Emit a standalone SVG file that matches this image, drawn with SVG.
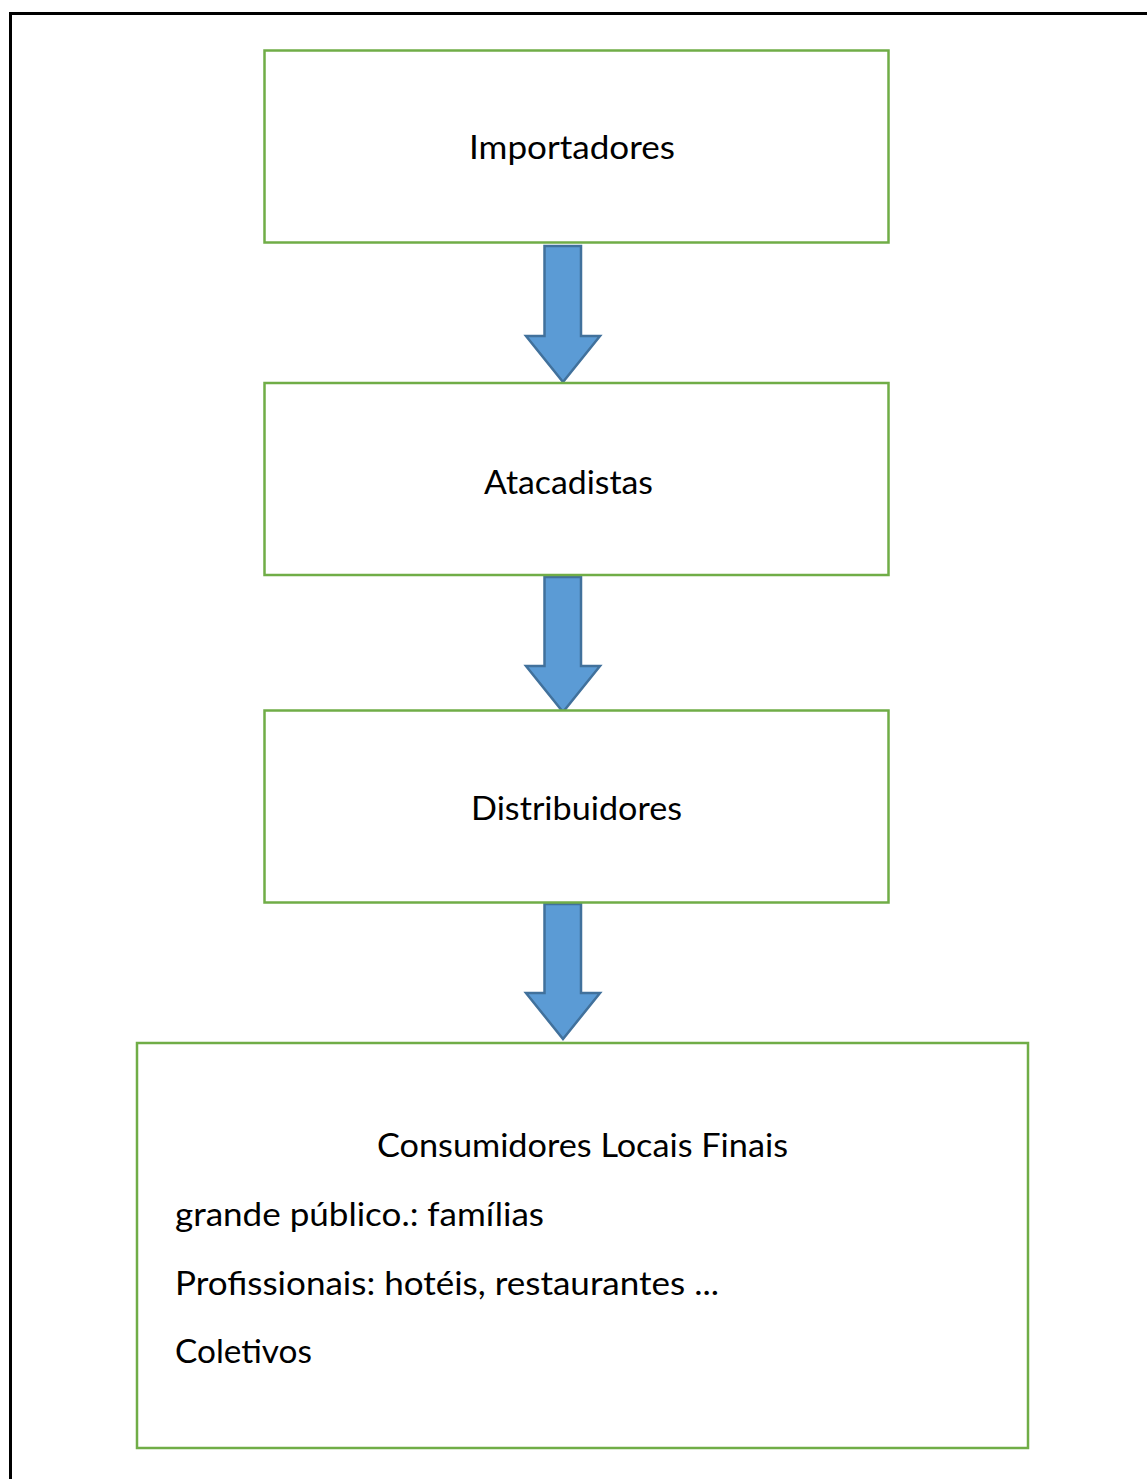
<svg xmlns="http://www.w3.org/2000/svg" width="1147" height="1479" viewBox="0 0 1147 1479">
<style>
.box{fill:#fff;stroke:#70AD47;stroke-width:2.5}
.arr{fill:#5B9BD5;stroke:#41719C;stroke-width:2.5;stroke-linejoin:miter}
.t{font-family:Lato,"Open Sans","Liberation Sans",sans-serif;font-size:32px;fill:#000}
</style>
<rect width="1147" height="1479" fill="#fff"/>
<path d="M10.5,1479 V13.5 H1147" fill="none" stroke="#000" stroke-width="3"/>
<g id="connectors">
<polygon class="arr" points="544.5,246 581,246 581,336 600,336 563,382 526,336 544.5,336"/>
<polygon class="arr" points="544.5,577 581,577 581,666 600,666 563,712 526,666 544.5,666"/>
<polygon class="arr" points="544.5,904 581,904 581,993 600,993 563,1039 526,993 544.5,993"/>
</g>
<g id="importadores">
<rect class="box" x="264.5" y="50.5" width="624" height="192"/>
<text class="t" x="469" y="159" textLength="206" lengthAdjust="spacingAndGlyphs">Importadores</text>
</g>
<g id="atacadistas">
<rect class="box" x="264.5" y="383" width="624" height="192"/>
<text class="t" x="484" y="494" textLength="169" lengthAdjust="spacingAndGlyphs">Atacadistas</text>
</g>
<g id="distribuidores">
<rect class="box" x="264.5" y="710.5" width="624" height="192"/>
<text class="t" x="471" y="820" textLength="211" lengthAdjust="spacingAndGlyphs">Distribuidores</text>
</g>
<g id="consumidores">
<rect class="box" x="137" y="1043" width="891" height="405"/>
<text class="t" x="377" y="1157" textLength="411" lengthAdjust="spacingAndGlyphs">Consumidores Locais Finais</text>
<text class="t" x="175" y="1226" textLength="369" lengthAdjust="spacingAndGlyphs">grande público.: famílias</text>
<text class="t" x="175" y="1295" textLength="544" lengthAdjust="spacingAndGlyphs">Profissionais: hotéis, restaurantes ...</text>
<text class="t" x="175" y="1363" textLength="137" lengthAdjust="spacingAndGlyphs">Coletivos</text>
</g>
</svg>
